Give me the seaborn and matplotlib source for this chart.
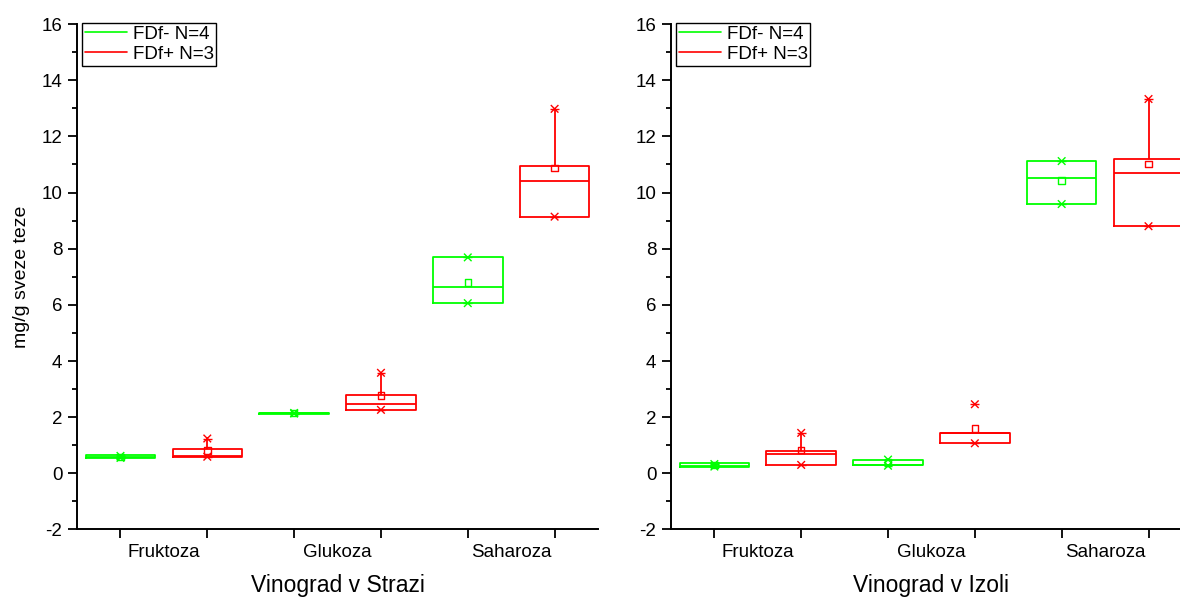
import matplotlib
matplotlib.use("Agg")
import matplotlib.pyplot as plt
from matplotlib.lines import Line2D
from matplotlib.ticker import MultipleLocator, FixedLocator, FixedFormatter, NullFormatter
import numpy as np
import pandas as pd
import seaborn as sns

# ---- data -------------------------------------------------------------
categories = ["Fruktoza", "Glukoza", "Saharoza"]
groups = ["FDf- N=4", "FDf+ N=3"]
group_colors = ["#00FF00", "#FF0000"]
sites = ["Vinograd v Strazi", "Vinograd v Izoli"]
y_label = "mg/g sveze teze"

# Five-number box summaries, [group][category]  (FDf-, FDf+)
strazi_whisker_lo = [[0.54, 2.12, 6.06], [0.59, 2.26, 9.14]]
strazi_q1 = [[0.54, 2.12, 6.06], [0.59, 2.26, 9.14]]
strazi_median = [[0.58, 2.14, 6.63], [0.60, 2.46, 10.40]]
strazi_q3 = [[0.64, 2.15, 7.69], [0.88, 2.79, 10.95]]
strazi_whisker_hi = [[0.64, 2.15, 7.69], [1.24, 3.58, 12.98]]
strazi_mean = [[0.58, 2.14, 6.79], [0.82, 2.78, 10.87]]
strazi_min = [[0.55, 2.13, 6.06], [0.59, 2.26, 9.14]]
strazi_max = [[0.62, 2.15, 7.69], [1.24, 3.58, 12.98]]

izola_whisker_lo = [[0.21, 0.28, 9.59], [0.30, 1.07, 8.80]]
izola_q1 = [[0.21, 0.28, 9.59], [0.30, 1.07, 8.80]]
izola_median = [[0.27, 0.31, 10.52], [0.68, 1.42, 10.70]]
izola_q3 = [[0.35, 0.47, 11.12], [0.80, 1.44, 11.20]]
izola_whisker_hi = [[0.35, 0.47, 11.12], [1.44, 1.44, 13.33]]
izola_mean = [[0.29, 0.38, 10.42], [0.83, 1.60, 11.01]]
izola_min = [[0.24, 0.27, 9.59], [0.30, 1.07, 8.80]]
izola_max = [[0.33, 0.49, 11.12], [1.44, 2.46, 13.33]]

site_summaries = [
    (strazi_whisker_lo, strazi_q1, strazi_median, strazi_q3, strazi_whisker_hi,
     strazi_mean, strazi_min, strazi_max),
    (izola_whisker_lo, izola_q1, izola_median, izola_q3, izola_whisker_hi,
     izola_mean, izola_min, izola_max),
]

# ---- style ------------------------------------------------------------
sns.set_style("ticks")
plt.rcParams["font.family"] = ["Liberation Sans", "DejaVu Sans"]
plt.rcParams["axes.unicode_minus"] = False
for key in ("text.color", "axes.labelcolor", "xtick.color", "ytick.color"):
    plt.rcParams[key] = "black"

palette = dict(zip(groups, group_colors))
dodge_offset = {groups[0]: -0.25, groups[1]: 0.25}

fig = plt.figure(figsize=(11.8, 6.01), dpi=100)
axes_rects = [[0.0653, 0.119, 0.4415, 0.841], [0.5686, 0.119, 0.4415, 0.841]]

for site, rect, summary in zip(sites, axes_rects, site_summaries):
    wlo, q1, med, q3, whi, mean, mn, mx = summary
    ax = fig.add_axes(rect)

    # each box is described by its five-number summary
    box_rows = []
    point_rows = []
    for gi, g in enumerate(groups):
        for ci, c in enumerate(categories):
            for v in (wlo[gi][ci], q1[gi][ci], med[gi][ci], q3[gi][ci], whi[gi][ci]):
                box_rows.append({"category": c, "group": g, "value": v})
            xpos = ci + dodge_offset[g]
            point_rows.append({"x": xpos, "group": g, "kind": "mean", "value": mean[gi][ci]})
            point_rows.append({"x": xpos, "group": g, "kind": "ext", "value": mn[gi][ci]})
            point_rows.append({"x": xpos, "group": g, "kind": "ext", "value": mx[gi][ci]})
    box_df = pd.DataFrame(box_rows)
    pts = pd.DataFrame(point_rows)

    sns.boxplot(data=box_df, x="category", y="value", hue="group",
                order=categories, hue_order=groups, palette=palette,
                fill=False, width=1.0, gap=0.2, whis=(0, 100), linewidth=1.3,
                showfliers=False, capprops={"linewidth": 0}, legend=False, ax=ax)

    ext = pts[pts["kind"] == "ext"]
    sns.scatterplot(data=ext, x="x", y="value", hue="group", hue_order=groups,
                    palette=palette, marker="x", s=30, linewidth=1.0,
                    legend=False, ax=ax, zorder=4)
    sns.scatterplot(data=ext, x="x", y="value", hue="group", hue_order=groups,
                    palette=palette, marker="_", s=40, linewidth=1.0,
                    legend=False, ax=ax, zorder=4)
    means = pts[pts["kind"] == "mean"]
    sns.scatterplot(data=means, x="x", y="value", hue="group", hue_order=groups,
                    palette=palette, marker="s", s=22, linewidth=1.0,
                    legend=False, ax=ax, zorder=5)
    coll = ax.collections[-1]
    coll.set_edgecolors(coll.get_facecolors())
    coll.set_facecolors("none")

    # axes cosmetics
    ax.set_xlim(-0.5, len(categories) - 0.5)
    ax.set_ylim(-2, 16)
    box_positions = sorted(ci + o for ci in range(len(categories)) for o in dodge_offset.values())
    ax.xaxis.set_major_locator(FixedLocator(box_positions))
    ax.xaxis.set_major_formatter(NullFormatter())
    ax.xaxis.set_minor_locator(FixedLocator(range(len(categories))))
    ax.xaxis.set_minor_formatter(FixedFormatter(categories))
    ax.tick_params(axis="x", which="major", direction="out", length=6.5, width=1.3)
    ax.tick_params(axis="x", which="minor", length=0, pad=10.5, labelsize=13.5)
    ax.yaxis.set_major_locator(MultipleLocator(2))
    ax.yaxis.set_minor_locator(MultipleLocator(1))
    ax.tick_params(axis="y", which="major", direction="out", length=6.5, width=1.3,
                   labelsize=13.5, pad=4)
    ax.tick_params(axis="y", which="minor", direction="out", length=3.3, width=1.3)
    sns.despine(ax=ax)
    for sp in ("left", "bottom"):
        ax.spines[sp].set_linewidth(1.4)
        ax.spines[sp].set_color("black")
    ax.set_xlabel(site, fontsize=16.5, labelpad=9)
    ax.set_ylabel("")

    handles = [Line2D([], [], color=c, lw=1.2) for c in group_colors]
    leg = ax.legend(handles, groups, loc="upper left", bbox_to_anchor=(0.0096, 1.002),
                    borderaxespad=0, frameon=True, fancybox=False, framealpha=1,
                    edgecolor="black", fontsize=13.5, handlelength=2.25,
                    handletextpad=0.3, labelspacing=0.15, borderpad=0.15)
    leg.get_frame().set_linewidth(1.0)

    if site == sites[0]:
        ax.set_ylabel(y_label, fontsize=14, labelpad=8)

fig.savefig("out.png", dpi=100)
